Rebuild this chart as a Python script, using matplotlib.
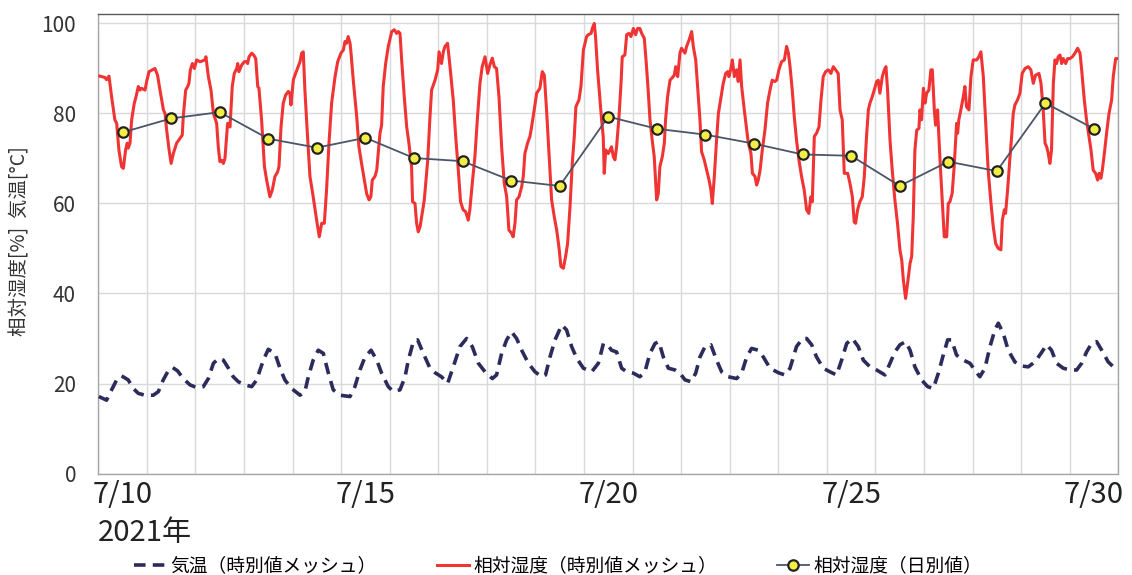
import numpy as np
import matplotlib
matplotlib.use("Agg")
import matplotlib.pyplot as plt

plt.rcParams['font.family'] = ['Noto Sans CJK JP', 'DejaVu Sans']

# 時刻は 7/10 0:00 からの経過時間 [h]
rh_hours = [0.8, 3.3, 4.1, 5.3, 6.6, 8.2, 9.1, 10.2, 11.5, 12.4, 13.5, 14.3, 14.8, 15.7, 16.5, 17.8, 18.5, 19.8,
            20.6, 21.4, 23.1, 23.9, 25.1, 26.7, 28.0, 29.3, 30.5, 32.2, 33.0, 33.8, 35.0, 36.0, 37.1, 38.7, 40.4,
            41.5, 42.0, 43.2, 44.2, 44.8, 45.5, 46.5, 47.5, 48.6, 50.3, 52.7, 53.2, 54.4, 55.7, 56.9, 58.5, 59.3,
            60.1, 61.0, 61.8, 62.6, 63.9, 65.1, 66.2, 67.2, 68.4, 68.9, 69.5, 70.9, 72.2, 73.3, 73.8, 74.5, 75.8,
            76.8, 77.8, 78.8, 79.4, 80.7, 82.1, 83.2, 84.8, 86.0, 87.3, 88.6, 89.3, 90.3, 91.4, 92.6, 93.9, 94.7,
            95.2, 96.4, 97.5, 98.8, 99.7, 100.5, 101.3, 102.1, 103.4, 104.6, 106.2, 107.9, 109.2, 110.4, 111.7,
            112.8, 114.0, 115.3, 117.0, 118.3, 119.9, 121.1, 121.9, 122.7, 123.5, 124.4, 124.9, 126.0, 127.7,
            128.8, 130.1, 131.5, 132.6, 133.8, 134.7, 135.4, 136.7, 137.6, 139.2, 140.0, 140.8, 142.0, 143.3,
            145.0, 146.3, 147.4, 148.3, 149.1, 149.9, 151.2, 152.4, 153.5, 154.8, 155.3, 156.5, 157.3, 158.1,
            159.0, 159.8, 161.1, 162.8, 163.9, 164.7, 166.4, 167.7, 168.4, 169.6, 170.5, 171.3, 172.6, 173.8,
            175.4, 176.6, 177.9, 179.0, 180.3, 181.5, 182.8, 183.6, 184.8, 186.1, 187.4, 188.6, 189.7, 191.1,
            192.4, 193.5, 194.7, 195.7, 196.8, 198.0, 199.3, 200.6, 201.8, 202.9, 204.2, 205.0, 205.9, 206.7,
            207.9, 209.2, 210.0, 210.8, 212.1, 213.3, 214.1, 215.4, 216.6, 218.2, 219.4, 220.4, 221.5, 222.7,
            224.0, 225.3, 226.5, 227.6, 228.6, 229.8, 230.9, 231.9, 233.1, 234.2, 235.2, 236.0, 237.5, 238.5,
            239.7, 240.5, 241.3, 242.1, 243.5, 244.1, 245.1, 245.7, 246.7, 247.9, 248.7, 249.5, 250.0, 250.7,
            252.0, 253.6, 254.5, 255.3, 256.1, 257.3, 258.3, 258.9, 260.2, 261.1, 262.2, 263.2, 264.4, 265.5,
            266.5, 267.6, 268.5, 269.8, 270.9, 271.8, 272.6, 273.7, 274.7, 275.9, 276.7, 277.5, 278.7, 279.7,
            280.3, 281.3, 282.5, 283.3, 284.6, 285.3, 286.3, 287.4, 288.2, 289.9, 290.7, 291.9, 293.2, 294.0,
            295.2, 296.5, 297.3, 298.1, 299.4, 300.6, 301.8, 302.7, 303.4, 304.4, 305.5, 306.4, 307.7, 308.8,
            310.0, 311.0, 311.6, 312.6, 313.3, 314.3, 315.4, 316.2, 317.1, 317.9, 319.2, 320.4, 321.2, 322.5,
            323.2, 324.5, 325.3, 326.1, 327.0, 328.1, 329.4, 330.7, 331.9, 333.0, 334.3, 335.2, 336.3, 337.6,
            339.0, 340.1, 341.0, 341.8, 342.9, 343.9, 345.0, 346.2, 347.5, 348.8, 350.0, 351.1, 352.1, 352.8,
            353.8, 354.9, 356.1, 357.1, 358.2, 359.4, 360.7, 362.0, 363.2, 364.3, 365.6, 366.5, 367.6, 368.6,
            370.3, 371.4, 372.6, 373.5, 374.2, 375.2, 376.3, 377.5, 378.5, 379.6, 380.5, 381.3, 382.4, 383.4,
            384.6, 385.4, 386.2, 387.4, 388.4, 389.2, 390.0, 391.2, 392.3, 393.6, 394.9, 396.1, 397.0, 397.8,
            398.9, 399.9, 401.1, 401.9, 402.7, 403.5, 404.4, 405.5, 406.0, 406.8, 407.7, 408.5, 409.3, 410.4,
            411.4, 412.1, 413.1, 413.7, 414.7, 415.9, 417.0, 418.0, 419.2, 420.0, 420.8, 421.9, 422.9, 424.1,
            424.6, 425.2, 426.2, 427.4, 428.2, 429.0, 430.2, 431.2, 432.3, 434.0, 435.1, 436.1, 437.3, 438.4,
            439.7, 441.1, 442.2, 443.4, 444.7, 446.0, 446.7, 447.7, 448.3, 449.3, 450.5, 451.3, 452.1, 452.9,
            454.2, 455.4, 456.5, 457.9, 459.5, 460.8, 462.0, 463.1, 464.8, 465.8, 466.9, 467.8, 468.6, 469.4,
            470.2, 471.0, 471.9, 472.7, 473.5, 474.3, 475.2, 476.0, 476.8, 478.0, 479.0, 480.1, 481.3, 482.6,
            483.9, 485.1, 485.9, 487.2, 488.3, 489.5, 490.5, 491.6, 492.8, 493.8, 494.5, 495.4, 496.1, 497.1,
            498.2, 499.4, 500.7, 501.5, 502.7, 504.0]
rh_values = [88.3, 88.0, 87.5, 88.3, 83.7, 78.6, 77.8, 71.9, 68.2, 67.8, 71.9, 73.4, 72.3, 73.4, 78.6, 82.3, 83.4, 86.0,
             85.2, 85.6, 85.2, 87.1, 89.3, 89.7, 90.0, 88.5, 85.2, 80.8, 80.0, 76.3, 71.9, 68.9, 71.1, 73.4, 74.5,
             75.2, 79.3, 85.2, 86.0, 86.7, 89.7, 91.1, 90.0, 91.9, 91.5, 91.9, 92.6, 88.2, 85.2, 80.0, 77.8, 72.6,
             69.3, 69.6, 68.9, 70.0, 77.8, 77.0, 86.0, 88.9, 90.0, 91.1, 89.3, 90.8, 91.5, 91.5, 91.1, 92.6, 93.4,
             93.0, 92.2, 86.0, 85.6, 78.6, 68.2, 65.2, 61.5, 63.0, 66.0, 67.0, 68.2, 77.0, 82.3, 84.1, 84.9, 84.5,
             81.9, 87.5, 88.9, 90.4, 91.5, 93.4, 93.7, 85.2, 74.9, 66.0, 61.5, 56.3, 52.6, 55.6, 55.6,
             63.0, 73.4, 82.3, 88.2, 91.5, 93.4, 94.1, 96.0, 95.6, 97.1, 95.6, 93.4, 87.4, 79.3,
             72.6, 68.9, 65.2, 62.2, 60.8, 61.5, 65.2, 66.0, 67.4, 75.6, 77.4, 86.0, 91.1, 94.9,
             98.2, 98.6, 97.8, 98.2, 97.8, 91.9, 83.7, 77.0, 73.4, 68.2, 60.4, 60.0, 55.6, 53.7,
             54.8, 57.1, 60.8, 69.7, 79.3, 85.2, 87.4, 89.7, 93.7, 91.1, 93.7, 94.9, 95.6, 90.4,
             83.0, 74.9, 67.4, 60.4, 58.6, 58.2, 56.3, 58.6, 64.5, 70.4, 79.3, 86.7, 90.4, 92.6,
             88.9, 90.8, 92.3, 90.4, 90.0, 83.7, 72.6, 64.5, 61.5, 54.1, 53.4, 52.6, 55.6, 60.8,
             61.5, 63.7, 66.0, 71.1, 73.4, 74.9, 77.0, 80.8, 84.5, 85.6, 89.3, 88.5, 80.8, 71.1,
             60.8, 57.1, 54.1, 50.4, 46.0, 45.6, 48.2, 51.1, 59.3, 68.9, 74.9, 81.5, 83.0, 86.0,
             94.1, 95.6, 97.1, 97.5, 97.8, 98.9, 100.0, 97.1, 89.7, 83.0, 78.6, 74.9, 66.7, 71.9,
             71.1, 72.6, 70.4, 69.7, 72.6, 79.3, 86.7, 92.6, 93.0, 97.5, 97.8, 97.1, 98.9, 97.5,
             98.9, 98.9, 97.8, 96.7, 90.4, 84.5, 78.6, 74.1, 70.4, 60.8, 62.2, 68.2, 70.4, 73.4,
             78.6, 83.7, 87.4, 87.8, 88.5, 90.4, 88.2, 93.4, 94.5, 93.4, 94.9, 96.3, 98.2, 94.9,
             91.9, 83.7, 78.6, 71.5, 69.7, 67.4, 65.2, 63.0, 60.0, 66.0, 74.1, 80.0, 83.7, 86.7,
             88.9, 89.3, 88.2, 90.0, 91.9, 88.2, 89.7, 87.1, 91.9, 86.0, 80.8, 76.3, 73.4, 71.1,
             66.7, 66.0, 64.1, 65.2, 67.4, 71.9, 76.3, 82.3, 85.2, 87.4, 87.1, 87.4, 89.7, 91.5,
             91.9, 94.9, 93.4, 90.4, 85.2, 79.3, 74.1, 69.7, 66.0, 63.0, 58.6, 57.8, 61.5, 60.4,
             74.9, 75.6, 77.0, 83.0, 88.2, 89.3, 89.7, 88.9, 90.4, 89.7, 88.9, 80.8, 78.6, 66.7,
             66.7, 64.5, 61.5, 55.9, 55.6, 58.6, 60.4, 61.5, 66.0, 74.9, 80.8, 82.3, 83.7, 85.2,
             87.1, 87.4, 84.5, 88.2, 89.7, 90.4, 85.2, 74.1, 67.4, 60.8, 55.6, 49.7, 47.4, 43.0,
             38.9, 42.3, 46.7, 48.2, 57.1, 71.9, 76.3, 76.7, 80.8, 78.6, 85.6, 82.3, 84.5, 85.2,
             89.7, 89.7, 80.8, 77.4, 80.8, 69.7, 60.8, 52.6, 52.6, 60.0, 60.4, 62.2, 68.2, 77.8,
             75.6, 78.6, 80.8, 83.7, 86.0, 81.5, 80.8, 88.2, 91.9, 91.9, 92.6, 93.7, 88.2, 78.6,
             67.4, 60.0, 54.9, 51.1, 50.0, 49.7, 56.3, 58.6, 57.8, 63.0, 70.4, 74.9, 80.0, 81.9,
             83.0, 84.5, 88.9, 90.0, 90.4, 89.7, 86.7, 88.5, 88.9, 86.7, 80.8, 73.4, 72.6, 71.1,
             68.9, 71.9, 86.7, 91.9, 91.1, 92.6, 93.0, 91.1, 92.2, 91.1, 92.2, 92.2, 92.6, 93.4,
             94.5, 93.4, 89.7, 83.0, 78.6, 74.9, 71.9, 67.4, 66.7, 65.2, 66.7, 65.6, 67.4, 71.1,
             75.6, 80.0, 83.0, 88.2, 92.2, 92.2]

temp_hours = [0.3, 4.1, 6.6, 9.1, 11.5, 14.8, 17.3, 19.8, 23.1, 27.2, 29.7, 32.1, 34.3, 36.6, 39.2, 42.0, 45.3,
              48.6, 51.9, 54.4, 56.9, 59.6, 61.8, 64.3, 66.7, 69.2, 72.5, 75.8, 78.3, 79.9, 81.6, 84.0, 87.3,
              89.8, 92.2, 95.5, 99.7, 102.1, 103.8, 106.2, 108.7, 111.2, 113.7, 116.1, 119.4, 124.4, 126.8,
              129.3, 131.8, 134.8, 137.6, 140.0, 143.3, 145.8, 149.1, 151.6, 153.2, 155.7, 157.8, 160.6, 163.9,
              166.4, 169.6, 172.6, 175.4, 178.7, 182.0, 184.8, 187.8, 191.1, 194.7, 196.8, 199.3, 201.8, 204.2,
              206.7, 209.2, 212.5, 215.8, 219.1, 221.0, 223.2, 225.7, 229.0, 231.4, 233.9, 236.4, 239.7, 243.8,
              247.1, 249.6, 252.0, 253.6, 256.1, 258.6, 261.1, 264.4, 267.6, 270.1, 272.6, 275.1, 277.0, 279.2,
              281.7, 285.0, 287.4, 289.9, 292.9, 295.2, 297.3, 299.8, 302.7, 305.5, 308.0, 311.3, 315.4, 317.9,
              320.4, 322.8, 326.1, 328.6, 331.9, 336.0, 339.3, 341.8, 345.0, 348.0, 350.0, 352.5, 354.9, 358.2,
              361.5, 364.8, 367.3, 369.8, 372.6, 375.5, 378.0, 381.3, 384.6, 388.7, 391.2, 393.6, 396.1, 398.9,
              401.1, 403.5, 406.8, 409.8, 412.6, 415.1, 417.5, 419.7, 421.6, 424.1, 427.4, 430.7, 433.1, 435.6,
              438.1, 440.6, 443.0, 444.7, 447.2, 449.6, 452.9, 456.2, 459.5, 462.8, 465.8, 468.6, 471.0, 473.5,
              476.8, 480.1, 483.4, 485.9, 488.3, 490.8, 493.3, 495.8, 499.0, 502.3, 503.5]
temp_values = [17.1, 16.3, 18.6, 20.8, 21.7, 20.8, 18.9, 17.8, 17.4, 17.4, 18.2, 20.8, 22.6, 23.6, 22.8, 21.1, 19.7,
               19.1, 19.3, 21.1, 24.5, 25.6, 25.2, 23.4, 21.5, 20.4, 19.7, 19.3, 20.8, 23.0, 25.2, 27.6, 26.7,
               23.4, 20.8, 18.9, 17.4, 18.2, 21.5, 25.2, 27.4, 26.7, 22.3, 18.6, 17.4, 17.1, 19.3,
               23.0, 25.9, 27.4, 25.2, 22.3, 19.3, 18.2, 18.6, 21.5, 25.2, 29.3, 29.7, 26.7, 23.4,
               22.4, 21.5, 20.0, 23.7, 28.2, 30.0, 28.2, 24.5, 22.6, 21.1, 21.9, 26.7, 29.7, 31.5,
               30.0, 27.4, 24.5, 22.6, 21.5, 21.9, 25.9, 29.7, 33.0, 31.9, 28.2, 25.6, 23.4, 22.6,
               24.5, 28.9, 28.4, 27.4, 27.0, 23.4, 22.6, 22.3, 21.5, 22.6, 26.7, 28.9, 29.3, 25.9,
               23.4, 23.0, 22.3, 20.8, 20.4, 22.3, 25.9, 28.2, 28.6, 25.2, 22.6, 21.5, 21.1, 22.3,
               25.9, 27.8, 27.4, 25.9, 23.4, 22.4, 21.9, 23.4, 28.2, 30.0, 30.0, 28.6, 25.9, 23.4,
               22.6, 21.9, 25.2, 28.9, 30.0, 28.2, 25.2, 23.7, 23.0, 21.9, 24.5, 27.0, 28.6, 29.3,
               27.4, 23.7, 20.8, 19.3, 18.9, 22.3, 26.3, 29.7, 29.7, 26.3, 25.2, 24.5, 23.0, 21.5,
               23.4, 28.2, 31.9, 33.4, 31.1, 27.4, 24.8, 23.9, 23.7, 24.8, 26.7, 28.6, 27.4, 24.5,
               23.4, 23.0, 23.0, 24.5, 27.0, 28.9, 29.3, 27.4, 24.8, 23.4, 22.8]

# 日別値（各日12時）
daily_days = list(range(21))
daily_rh = [75.8, 78.9, 80.3, 74.4, 72.4, 74.6, 70.1, 69.4, 65.1, 63.9, 79.3,
            76.6, 75.3, 73.3, 70.9, 70.6, 63.9, 69.3, 67.2, 82.3, 76.6]

tick_days = [0, 5, 10, 15, 20]
tick_labels = ['7/10', '7/15', '7/20', '7/25', '7/30']

fig = plt.figure(figsize=(11.32, 5.75), dpi=100)
ax = fig.add_axes([0.0868, 0.1765, 0.9011, 0.7991])

ax.plot(temp_hours, temp_values, color='#2C2C5C', lw=2.6, dashes=(3.2, 2.0),
        label='気温（時別値メッシュ）', zorder=3)
ax.plot(rh_hours, rh_values, color='#F03333', lw=2.2, solid_joinstyle='round',
        label='相対湿度（時別値メッシュ）', zorder=4)
ax.plot([d * 24 + 12 for d in daily_days], daily_rh, color='#4A5568', lw=1.3,
        marker='o', ms=7.5, mfc='#F2EE45', mec='#222222', mew=1.6,
        label='相対湿度（日別値）', zorder=5)

ax.set_xlim(0, 504)
ax.set_ylim(0, 102.1)
ax.set_yticks([0, 20, 40, 60, 80, 100])
ax.set_xticks(np.arange(0, 505, 24))
ax.set_xticklabels([])
ax.set_xticks([d * 24 + 12 for d in tick_days], minor=True)
ax.set_xticklabels(tick_labels, minor=True)
ax.tick_params(axis='x', which='both', length=0)
ax.tick_params(axis='x', which='minor', labelsize=21, pad=5, colors='#222222')
ax.tick_params(axis='y', length=0, labelsize=15, pad=16, colors='#333333')
ax.grid(True, which='major', color='#D9D9D9', lw=1.0, zorder=0)
ax.set_axisbelow(True)
for side in ['left', 'right', 'bottom']:
    ax.spines[side].set_color('#A6A6A6')
    ax.spines[side].set_linewidth(1.0)
ax.spines['top'].set_color('#595959')
ax.spines['top'].set_linewidth(1.0)

fig.text(98 / 1132, 1 - 533 / 575, '2021年', fontsize=21, color='#222222',
         ha='left', va='center')
fig.text(20 / 1132, 1 - 241 / 575, '相対湿度[%]  気温[°C]', fontsize=14, color='#333333',
         rotation=90, ha='center', va='center')

fig.legend(loc='center', bbox_to_anchor=(0.493, 1 - 566 / 575), ncol=3, frameon=False,
           fontsize=13.5, handlelength=1.7, columnspacing=3.2, handletextpad=0.25)

fig.savefig('out.png', dpi=100)
